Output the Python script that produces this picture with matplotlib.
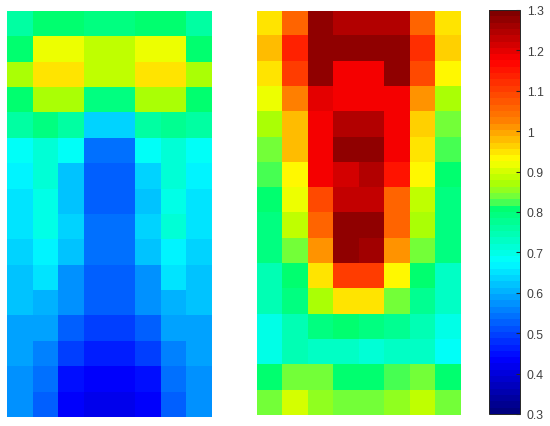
import numpy as np
import matplotlib
matplotlib.use("Agg")
import matplotlib.pyplot as plt
from matplotlib.colors import LinearSegmentedColormap

left_values = [
    [.755, .800, .800, .785, .785, .800, .800, .755],
    [.800, .915, .915, .890, .890, .915, .915, .805],
    [.865, .945, .945, .885, .885, .945, .945, .870],
    [.800, .875, .875, .790, .790, .875, .875, .805],
    [.755, .785, .760, .640, .640, .760, .780, .755],
    [.680, .720, .675, .535, .535, .675, .720, .680],
    [.665, .710, .625, .525, .525, .630, .710, .665],
    [.655, .700, .615, .520, .520, .620, .705, .655],
    [.645, .705, .635, .535, .535, .640, .710, .650],
    [.640, .670, .625, .535, .535, .625, .670, .640],
    [.615, .650, .575, .530, .530, .580, .655, .615],
    [.615, .610, .570, .525, .525, .570, .610, .620],
    [.590, .590, .525, .490, .490, .525, .590, .590],
    [.590, .550, .490, .460, .460, .490, .550, .590],
    [.570, .545, .450, .425, .425, .450, .545, .570],
    [.570, .525, .435, .420, .420, .435, .525, .570],
]
right_values = [
    [.945, 1.06, 1.28, 1.245, 1.245, 1.245, 1.05, .945],
    [.975, 1.13, 1.28, 1.28, 1.28, 1.28, 1.12, .960],
    [.945, 1.10, 1.28, 1.18, 1.18, 1.28, 1.085, .930],
    [.915, 1.025, 1.195, 1.18, 1.18, 1.18, 1.015, .875],
    [.875, .985, 1.18, 1.24, 1.24, 1.18, .965, .845],
    [.845, .975, 1.18, 1.27, 1.27, 1.18, .945, .825],
    [.825, .940, 1.175, 1.22, 1.245, 1.15, .930, .800],
    [.800, .915, 1.09, 1.23, 1.23, 1.065, .890, .795],
    [.795, .885, 1.065, 1.27, 1.27, 1.065, .865, .795],
    [.790, .845, 1.01, 1.27, 1.255, 1.01, .845, .785],
    [.745, .810, .950, 1.10, 1.10, .930, .810, .735],
    [.740, .785, .870, .950, .950, .840, .775, .735],
    [.700, .745, .795, .800, .790, .775, .750, .700],
    [.700, .740, .735, .730, .715, .735, .730, .685],
    [.800, .835, .835, .805, .805, .830, .845, .800],
    [.845, .905, .860, .845, .845, .860, .885, .845],
]
colorbar_ticks = [0.3, 0.4, 0.5, 0.6, 0.7, 0.8, 0.9, 1.0, 1.1, 1.2, 1.3]
colorbar_labels = ["0.3", "0.4", "0.5", "0.6", "0.7", "0.8", "0.9", "1", "1.1", "1.2", "1.3"]

vmin, vmax = 0.3, 1.3
anchors = [
    (0.30, "#000080"), (0.43, "#0000ff"), (0.675, "#00ffff"), (0.815, "#00ff68"),
    (0.825, "#50ff50"), (0.845, "#80ff30"), (0.875, "#b0ff00"), (0.90, "#d0ff00"),
    (0.93, "#ffff00"), (1.03, "#ff8000"), (1.18, "#ff0000"), (1.30, "#800000"),
]
cmap = LinearSegmentedColormap.from_list(
    "custom_jet", [((v - vmin) / (vmax - vmin), c) for v, c in anchors], N=64)

W, H = 550, 427
plt.rcParams["font.family"] = ["Liberation Sans", "DejaVu Sans"]
fig = plt.figure(figsize=(W / 100, H / 100), dpi=100, facecolor="white")


def px_axes(x0, y0, x1, y1):
    return fig.add_axes([x0 / W, 1 - y1 / H, (x1 - x0) / W, (y1 - y0) / H])


ax1 = px_axes(7, 12, 211, 418)
ax2 = px_axes(256.7, 12, 460.5, 416.5)
for ax, vals in ((ax1, left_values), (ax2, right_values)):
    im = ax.imshow(np.array(vals), cmap=cmap, vmin=vmin, vmax=vmax,
                   aspect="auto", interpolation="nearest")
    ax.axis("off")

cax = px_axes(489, 11, 519.7, 415)
cb = fig.colorbar(im, cax=cax)
cb.set_ticks(colorbar_ticks, labels=colorbar_labels)
cb.ax.tick_params(direction="in", length=3, width=0.8, color="#262626",
                  labelsize=8.8, labelcolor="#404040", pad=5)
cb.outline.set_edgecolor("#262626")
cb.outline.set_linewidth(0.7)

fig.savefig("out.png", dpi=100)
